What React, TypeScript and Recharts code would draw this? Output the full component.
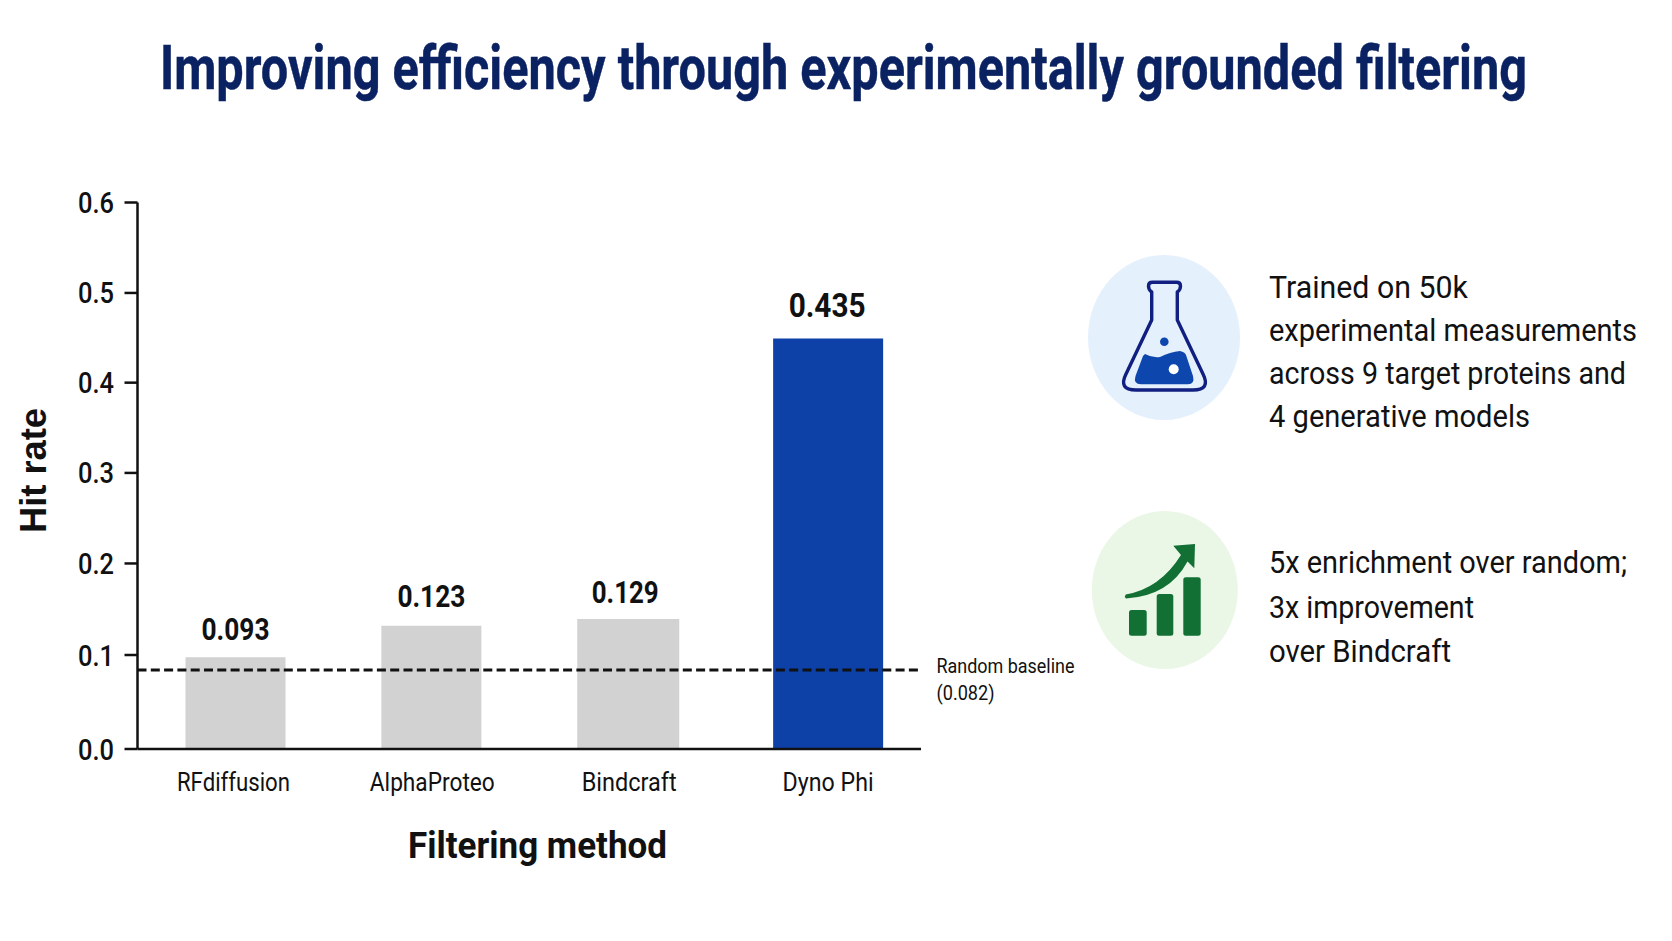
import React from 'react';
import { BarChart, Bar, XAxis, YAxis, Cell, LabelList, ReferenceLine, Rectangle, Label } from 'recharts';

const methods = ['RFdiffusion', 'AlphaProteo', 'Bindcraft', 'Dyno Phi'];
// bar heights as drawn in the picture, the printed labels are a little lower
const drawnHitRates = [0.1007, 0.1353, 0.1427, 0.4508];
const hitRateLabels = ['0.093', '0.123', '0.129', '0.435'];
const yTicks = [0, 0.1032, 0.2037, 0.3031, 0.4022, 0.5007, 0.6];
const yTickLabels = ['0.0', '0.1', '0.2', '0.3', '0.4', '0.5', '0.6'];
const drawnBaseline = 0.0867;
const baselineLines = ['Random baseline', '(0.082)'];
const titleText = 'Improving efficiency through experimentally grounded filtering';
const trainedLines = ['Trained on 50k', 'experimental measurements', 'across 9 target proteins and', '4 generative models'];
const enrichmentLines = ['5x enrichment over random;', '3x improvement', 'over Bindcraft'];

const data = methods.map((method, i) => ({ method, value: drawnHitRates[i], label: hitRateLabels[i] }));

const NARROW = 'Roboto, sans-serif';
const WIDE = '"Liberation Sans", Arial, sans-serif';
const INK = '#111111';

// per-bar tuning so text and widths land where the reference has them
const tickWidths = [113, 125, 95, 91];
const tickNudge = [-2, 1, 2, 5];
const valueWidths = [68, 68, 67, 77];
const valueGaps = [17, 19, 16, 21];
const valueNudge = [0, 0, -2, 4];
const barExtra = [0, 0, 2, 10];

// squeezes text with a transform, so the box of the text stays the drawn size
const FitText = ({ x, y, w, s, children, ...rest }: any) => (
  <text transform={`translate(${x} ${y}) scale(${s} 1)`} textLength={w / s} lengthAdjust="spacingAndGlyphs" {...rest}>
    {children}
  </text>
);

const BarShape = (props: any) => (
  <Rectangle x={props.x} y={props.y} height={props.height} fill={props.fill} width={props.width + barExtra[props.index]} />
);

const ValueLabel = (props: any) => {
  const { x, y, width, index, value } = props;
  return (
    <text
      x={x + width / 2 + valueNudge[index]}
      y={y - valueGaps[index]}
      textAnchor="middle"
      fontFamily={NARROW}
      fontWeight={700}
      fontSize={index === 3 ? 34 : 31}
      fill={INK}
      textLength={valueWidths[index]}
      lengthAdjust="spacingAndGlyphs"
    >
      {value}
    </text>
  );
};

const MethodTick = (props: any) => {
  const { x, payload, index } = props;
  return (
    <text
      x={x + tickNudge[index]}
      y={791}
      textAnchor="middle"
      fontFamily={NARROW}
      fontSize={26}
      fill={INK}
      textLength={tickWidths[index]}
      lengthAdjust="spacingAndGlyphs"
    >
      {payload.value}
    </text>
  );
};

const RateTick = (props: any) => {
  const { y, index } = props;
  return (
    <FitText x={78} y={y + 10.5} w={36} s={0.86} fontFamily={NARROW} fontWeight={500} fontSize={29} fill={INK}>
      {yTickLabels[index]}
    </FitText>
  );
};

const BaselineLabel = (props: any) => {
  const y = props.viewBox.y;
  return (
    <g fontFamily={NARROW} fontSize={21} fill={INK}>
      <text x={936.5} y={y + 3} textLength={138} lengthAdjust="spacingAndGlyphs">{baselineLines[0]}</text>
      <text x={936.5} y={y + 30} textLength={58} lengthAdjust="spacingAndGlyphs">{baselineLines[1]}</text>
    </g>
  );
};

const XTitle = () => (
  <text x={537.5} y={858} textAnchor="middle" fontFamily={NARROW} fontWeight={700} fontSize={37} fill={INK} textLength={259} lengthAdjust="spacingAndGlyphs">
    Filtering method
  </text>
);

const YTitle = () => (
  <text
    transform="translate(45.5 470.5) rotate(-90)"
    textAnchor="middle"
    fontFamily={WIDE}
    fontWeight={700}
    fontSize={36}
    fill={INK}
    textLength={125}
    lengthAdjust="spacingAndGlyphs"
  >
    Hit rate
  </text>
);

const SideText = () => (
  <svg width={1672} height={941} style={{ position: 'absolute', left: 0, top: 0, pointerEvents: 'none' }}>
    <FitText x={160} y={89} w={1367} s={0.828} fontFamily={NARROW} fontWeight={700} fontSize={62} fill="#0b2262" stroke="#0b2262" strokeWidth={0.5}>
      {titleText}
    </FitText>

    {/* flask icon */}
    <ellipse cx={1164} cy={337.5} rx={76} ry={82.5} fill="#e5f0fd" />
    <path
      d="M1151.7 292 V320 L1126 374 Q1118 390 1136 390 H1193 Q1211 390 1203 374 L1177.3 320 V292 Q1180.5 290 1180.5 286 Q1180.5 282.3 1176.5 282.3 H1152.5 Q1148.5 282.3 1148.5 286 Q1148.5 290 1151.7 292 Z"
      fill="none"
      stroke="#101f80"
      strokeWidth={3.4}
      strokeLinejoin="round"
    />
    <path
      d="M1145 354 Q1152 358 1160 357 Q1170 352 1180 351 Q1185 352 1186 355 L1193 376 Q1195 384.3 1188 384.3 H1141 Q1133 384.3 1135.5 376 L1143 356 Z"
      fill="#0d47ae"
    />
    <circle cx={1173.7} cy={369.3} r={5} fill="#ffffff" />
    <circle cx={1164.3} cy={341.7} r={4.3} fill="#0d47ae" />

    {/* growth icon */}
    <ellipse cx={1164.8} cy={590} rx={73} ry={79} fill="#ebf7e6" />
    <rect x={1129} y={610} width={17.7} height={25.7} rx={2.5} fill="#127034" />
    <rect x={1156.7} y={594} width={16.6} height={41.7} rx={2.5} fill="#127034" />
    <rect x={1183.3} y={577.3} width={17.4} height={58.4} rx={2.5} fill="#127034" />
    <path
      d="M1125.7 594.5 Q1160 588.6 1181 555 L1173.3 545.7 L1195 544 L1194.3 568.3 L1187.5 561.5 Q1169 596 1126 598.5 Q1124 596.5 1125.7 594.5 Z"
      fill="#127034"
    />

    <g fontFamily={NARROW} fontSize={32} fill={INK}>
      <FitText x={1269} y={297.7} w={199} s={0.92}>{trainedLines[0]}</FitText>
      <FitText x={1269} y={341} w={368} s={0.92}>{trainedLines[1]}</FitText>
      <FitText x={1269} y={384} w={357} s={0.92}>{trainedLines[2]}</FitText>
      <FitText x={1269} y={426.7} w={261} s={0.92}>{trainedLines[3]}</FitText>
      <FitText x={1269} y={573} w={358} s={0.92}>{enrichmentLines[0]}</FitText>
      <FitText x={1269} y={618} w={205} s={0.92}>{enrichmentLines[1]}</FitText>
      <FitText x={1269} y={662} w={182} s={0.92}>{enrichmentLines[2]}</FitText>
    </g>
  </svg>
);

export default function App() {
  return (
    <div style={{ position: 'absolute', left: 0, top: 0, width: 1672, height: 941, background: '#ffffff' }}>
      <BarChart
        width={1672}
        height={941}
        data={data}
        margin={{ top: 202.5, right: 751, bottom: 82, left: 0 }}
        barCategoryGap="0%"
      >
        <XAxis
          dataKey="method"
          height={110}
          axisLine={{ stroke: INK, strokeWidth: 2.5 }}
          tickLine={false}
          tick={<MethodTick />}
          interval={0}
        >
          <Label content={<XTitle />} />
        </XAxis>
        <YAxis
          width={137.5}
          domain={[0, 0.6]}
          ticks={yTicks}
          axisLine={{ stroke: INK, strokeWidth: 2.5 }}
          tickLine={{ stroke: INK, strokeWidth: 2.5 }}
          tickSize={13}
          tick={<RateTick />}
          interval={0}
        >
          <Label content={<YTitle />} />
        </YAxis>
        <Bar dataKey="value" barSize={100} fill="#d2d2d2" isAnimationActive={false} shape={<BarShape />}>
          {data.map((d, i) => (
            <Cell key={d.method} fill={i === data.length - 1 ? '#0d41a8' : '#d2d2d2'} />
          ))}
          <LabelList dataKey="label" content={<ValueLabel />} />
        </Bar>
        <ReferenceLine
          y={drawnBaseline}
          stroke={INK}
          strokeWidth={3}
          strokeDasharray="9 4.3"
          label={<BaselineLabel />}
        />
      </BarChart>
      <SideText />
    </div>
  );
}
